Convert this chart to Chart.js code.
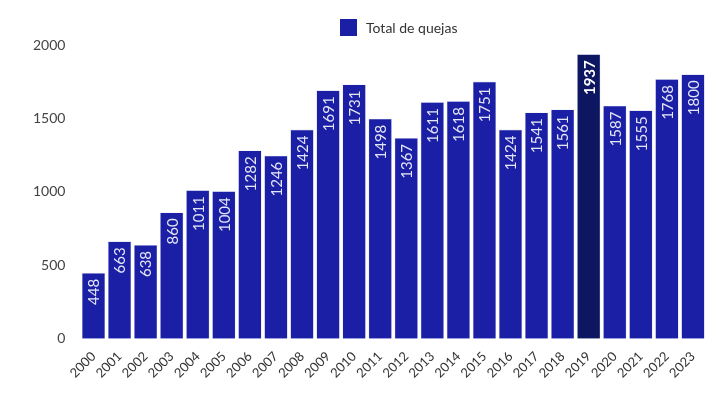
<!DOCTYPE html>
<html>
<head>
<meta charset="utf-8">
<script src="https://cdn.jsdelivr.net/npm/chart.js@4"></script>
<style>
  html, body { margin: 0; padding: 0; background: #fff; }
  #wrap { width: 712px; height: 401px; }
</style>
</head>
<body>
<div id="wrap"><canvas id="myChart"></canvas></div>
<script>
const years = ['2000', '2001', '2002', '2003', '2004', '2005', '2006', '2007', '2008', '2009', '2010', '2011',
  '2012', '2013', '2014', '2015', '2016', '2017', '2018', '2019', '2020', '2021', '2022', '2023'];
const quejas = [448, 663, 638, 860, 1011, 1004, 1282, 1246, 1424, 1691, 1731, 1498,
  1367, 1611, 1618, 1751, 1424, 1541, 1561, 1937, 1587, 1555, 1768, 1800];
const highlightYear = '2019';
const seriesName = 'Total de quejas';

const barColors = years.map(y => y === highlightYear ? '#0c1661' : '#1a1fa5');

// value labels drawn inside the top of each bar, rotated
const insideLabels = {
  id: 'insideLabels',
  afterDatasetsDraw(chart) {
    const c = chart.ctx;
    const meta = chart.getDatasetMeta(0);
    meta.data.forEach((bar, i) => {
      const bold = years[i] === highlightYear;
      c.save();
      c.translate(bar.x, bar.y + 6);
      c.rotate(-Math.PI / 2);
      c.textAlign = 'right';
      c.textBaseline = 'middle';
      c.fillStyle = bold ? '#ffffff' : '#e4e6f5';
      c.font = (bold ? 'bold ' : '') + '15px Lato';
      c.fillText(String(quejas[i]), 0, 1);
      c.restore();
    });
  }
};

// legend, placed a little right of centre like the original
const topLegend = {
  id: 'topLegend',
  afterDraw(chart) {
    const c = chart.ctx;
    c.save();
    c.fillStyle = '#1a1fa5';
    c.fillRect(340, 19, 17, 17);
    c.fillStyle = '#333';
    c.font = '14px Lato';
    c.textBaseline = 'middle';
    c.textAlign = 'left';
    c.fillText(seriesName, 366, 28);
    c.restore();
  }
};

const ctx = document.getElementById('myChart');
new Chart(ctx, {
  type: 'bar',
  data: {
    labels: years,
    datasets: [{
      label: seriesName,
      data: quejas,
      backgroundColor: barColors,
      borderColor: '#d7d9ee',
      borderWidth: 0.6,
      barPercentage: 0.9,
      categoryPercentage: 1
    }]
  },
  options: {
    responsive: true,
    maintainAspectRatio: false,
    animation: false,
    layout: { padding: { left: 26, right: 6, top: 45, bottom: 18 } },
    plugins: {
      legend: { display: false },
      tooltip: { enabled: false }
    },
    scales: {
      x: {
        grid: { display: false },
        border: { display: false },
        ticks: {
          autoSkip: false,
          color: '#333',
          font: { family: 'Lato', size: 13 },
          maxRotation: 45,
          minRotation: 45,
          padding: 2
        }
      },
      y: {
        beginAtZero: true,
        min: 0,
        max: 2000,
        grid: { display: false },
        border: { display: false },
        ticks: {
          stepSize: 500,
          color: '#444',
          font: { family: 'Lato', size: 14 },
          padding: 7,
          callback: v => String(v)
        }
      }
    }
  },
  plugins: [insideLabels, topLegend]
});
</script>
</body>
</html>
